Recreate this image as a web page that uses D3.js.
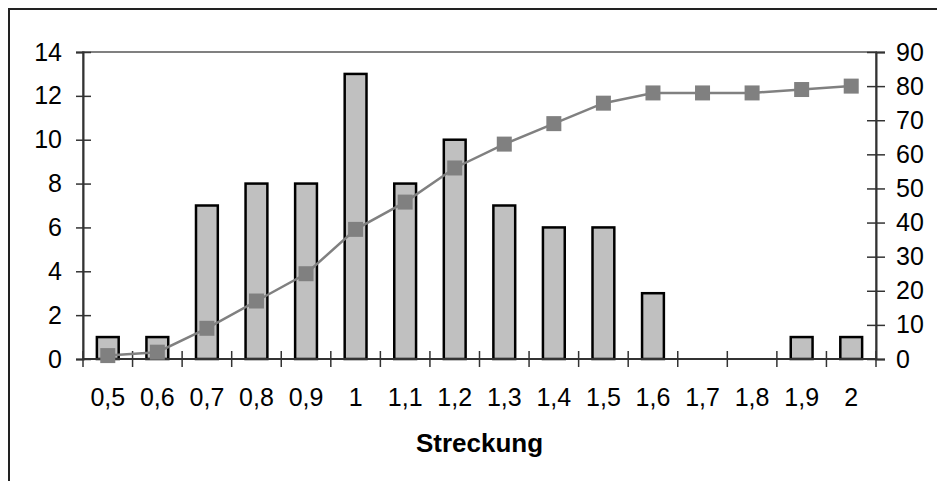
<!DOCTYPE html>
<html>
<head>
<meta charset="utf-8">
<script src="https://cdn.jsdelivr.net/npm/d3@7"></script>
<style>
  html, body { margin: 0; padding: 0; background: #fff; }
  svg { display: block; }
  text { font-family: "Liberation Sans", Arial, sans-serif; fill: #000; }
</style>
</head>
<body>
<svg id="chart" width="937" height="481"></svg>
<script>
const categories = ["0,5","0,6","0,7","0,8","0,9","1","1,1","1,2","1,3","1,4","1,5","1,6","1,7","1,8","1,9","2"];
const counts = [1, 1, 7, 8, 8, 13, 8, 10, 7, 6, 6, 3, 0, 0, 1, 1];
const cumulative = [1, 2, 9, 17, 25, 38, 46, 56, 63, 69, 75, 78, 78, 78, 79, 80];
const leftTicks = [0, 2, 4, 6, 8, 10, 12, 14];
const rightTicks = [0, 10, 20, 30, 40, 50, 60, 70, 80, 90];
const xTitle = "Streckung";

const svg = d3.select("#chart");
const L = 83, R = 876, T = 52, B = 359;
const FS = "25px";

// outer frame (right/bottom run off the picture)
svg.append("rect").attr("x", 9).attr("y", 9).attr("width", 1000).attr("height", 1000)
  .attr("fill", "none").attr("stroke", "#222").attr("stroke-width", 2);

const x = d3.scaleBand().domain(categories).range([L, R]).padding(0);
const yL = d3.scaleLinear().domain([0, 14]).range([B, T]);
const yR = d3.scaleLinear().domain([0, 90]).range([B, T]);

// plot area border (grey)
svg.append("rect").attr("x", L).attr("y", T).attr("width", R - L).attr("height", B - T)
  .attr("fill", "none").attr("stroke", "#808080").attr("stroke-width", 2);

// bars
const bw = x.step() * 0.44;
svg.append("g").selectAll("rect").data(categories).join("rect")
  .attr("x", d => x(d) + x.step() / 2 - bw / 2)
  .attr("y", (d, i) => yL(counts[i]))
  .attr("width", bw)
  .attr("height", (d, i) => B - yL(counts[i]))
  .attr("fill", "#c0c0c0")
  .attr("stroke", "#000")
  .attr("stroke-width", 2.5)
  .attr("display", (d, i) => counts[i] === 0 ? "none" : null);

// left axis
const axL = svg.append("g").attr("transform", `translate(${L},0)`)
  .call(d3.axisLeft(yL).tickValues(leftTicks).tickSize(7).tickPadding(14).tickFormat(d3.format("d")));
axL.select(".domain").attr("stroke", "#333").attr("stroke-width", 2);
axL.selectAll(".tick line").attr("x1", 8).attr("x2", -7).attr("stroke", "#333").attr("stroke-width", 1.5);
axL.selectAll(".tick text").style("font-size", FS).attr("fill", "#000").style("font-family", '"Liberation Sans", Arial, sans-serif');

// right axis
const axR = svg.append("g").attr("transform", `translate(${R},0)`)
  .call(d3.axisRight(yR).tickValues(rightTicks).tickSize(9).tickPadding(11).tickFormat(d3.format("d")));
axR.select(".domain").attr("stroke", "#333").attr("stroke-width", 2);
axR.selectAll(".tick line").attr("x1", -9).attr("x2", 9).attr("stroke", "#333").attr("stroke-width", 1.5);
axR.selectAll(".tick text").style("font-size", FS).attr("fill", "#000").style("font-family", '"Liberation Sans", Arial, sans-serif');

// bottom axis: labels at band centres, ticks at band boundaries
const axB = svg.append("g").attr("transform", `translate(0,${B})`)
  .call(d3.axisBottom(x).tickSize(0).tickPadding(29));
axB.select(".domain").remove();
axB.selectAll(".tick text").style("font-size", FS).attr("fill", "#000").style("font-family", '"Liberation Sans", Arial, sans-serif');
svg.append("line").attr("x1", L).attr("x2", R).attr("y1", B).attr("y2", B)
  .attr("stroke", "#333").attr("stroke-width", 2);
const bounds = categories.map(c => x(c)).concat([R]);
svg.append("g").selectAll("line").data(bounds).join("line")
  .attr("x1", d => d).attr("x2", d => d)
  .attr("y1", B - 8).attr("y2", B + 8)
  .attr("stroke", "#333").attr("stroke-width", 1.5);

// cumulative line
const cx = (d, i) => x(categories[i]) + x.step() / 2;
svg.append("path").datum(cumulative)
  .attr("d", d3.line().x((d, i) => cx(d, i)).y(d => yR(d)))
  .attr("fill", "none").attr("stroke", "#808080").attr("stroke-width", 2.5);
const ms = 15;
svg.append("g").selectAll("rect").data(cumulative).join("rect")
  .attr("x", (d, i) => cx(d, i) - ms / 2)
  .attr("y", d => yR(d) - ms / 2)
  .attr("width", ms).attr("height", ms)
  .attr("fill", "#808080");

// x title
svg.append("text").attr("x", (L + R) / 2).attr("y", 452)
  .attr("text-anchor", "middle")
  .style("font-size", "26px").style("font-weight", "bold")
  .text(xTitle);
</script>
</body>
</html>
